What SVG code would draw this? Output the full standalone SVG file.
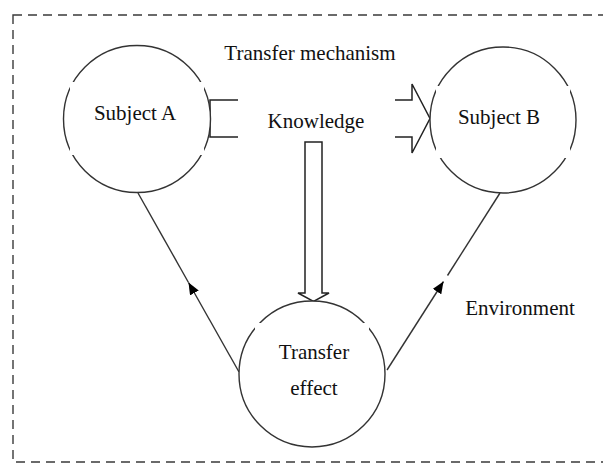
<svg xmlns="http://www.w3.org/2000/svg" width="603" height="464" viewBox="0 0 603 464">
  <style>
    .frame { fill: none; stroke: #3a3a3a; stroke-width: 1.4; stroke-dasharray: 9 6; }
    .node-shape { fill: #ffffff; stroke: #333333; stroke-width: 1.4; }
    .label-box { fill: #ffffff; stroke: none; }
    .label { font-family: "Liberation Serif", "Times New Roman", serif; font-size: 21px; fill: #111111; text-anchor: middle; }
    .link { fill: none; stroke: #333333; stroke-width: 1.4; }
    .hollow { fill: #ffffff; stroke: #222222; stroke-width: 1.5; stroke-linejoin: miter; }
  </style>
  <defs>
    <marker id="head" viewBox="0 0 12 10" refX="12" refY="5" markerWidth="12" markerHeight="10" markerUnits="userSpaceOnUse" orient="auto">
      <path d="M0,0 L12,5 L0,10 Z" fill="#000000"/>
    </marker>
  </defs>

  <rect width="603" height="464" fill="#ffffff"/>

  <!-- dashed boundary of the environment -->
  <rect class="frame" x="13" y="15" width="600" height="447"/>

  <!-- connectors -->
  <g id="connectors">
    <!-- transfer effect back to subject A -->
    <line class="link" x1="239" y1="372" x2="188.5" y2="282.5" marker-end="url(#head)"/>
    <line class="link" x1="188.5" y1="282.5" x2="138" y2="193"/>
    <!-- transfer effect on to subject B -->
    <line class="link" x1="387" y1="370" x2="443.5" y2="281.5" marker-end="url(#head)"/>
    <line class="link" x1="447.5" y1="275.5" x2="500" y2="193"/>
    <!-- knowledge flow from A to B (hollow block arrow, middle hidden by the label) -->
    <path class="hollow" d="M238,100 H210 V137 H238"/>
    <path class="hollow" d="M395,100 H412 V84 L430,118.5 L412,153 V137 H395"/>
    <!-- knowledge flow down to the transfer effect -->
    <path class="hollow" d="M305,142 H322 V293 H329 L313.5,301.5 L298,293 H305 Z"/>
  </g>

  <text class="label" x="310" y="60">Transfer mechanism</text>
  <text class="label" x="316" y="128">Knowledge</text>
  <text class="label" x="520" y="315">Environment</text>

  <g id="subject-a">
    <circle class="node-shape" cx="137" cy="119" r="73.5"/>
    <rect class="label-box" x="70" y="82" width="134" height="73"/>
    <text class="label" x="135" y="120">Subject A</text>
  </g>

  <g id="subject-b">
    <circle class="node-shape" cx="503" cy="120" r="73"/>
    <rect class="label-box" x="436" y="86" width="134" height="72"/>
    <text class="label" x="499" y="124">Subject B</text>
  </g>

  <g id="transfer-effect">
    <circle class="node-shape" cx="312" cy="374" r="73"/>
    <rect class="label-box" x="255" y="323" width="114" height="95"/>
    <text class="label" x="314" y="359">Transfer</text>
    <text class="label" x="314" y="395">effect</text>
  </g>
</svg>
